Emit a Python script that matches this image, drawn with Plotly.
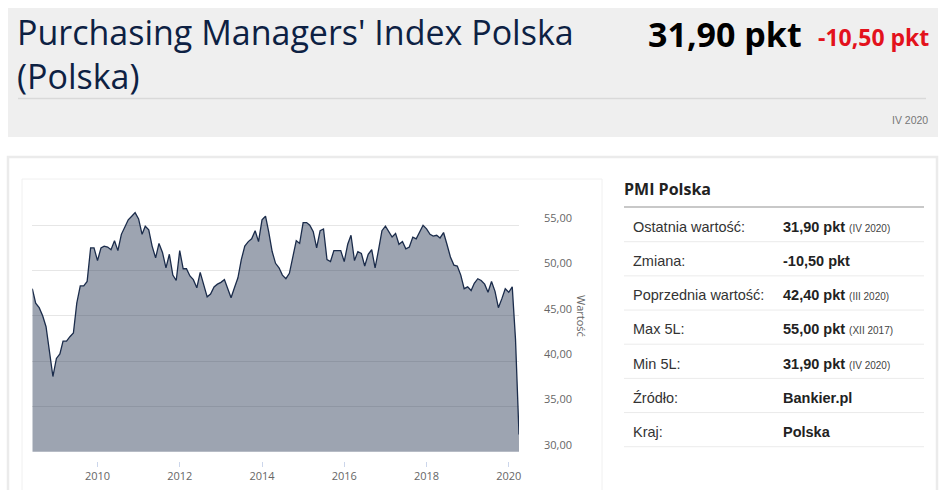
import pandas as pd
import plotly.graph_objects as go

W, H = 945, 490

# monthly PMI readings (Jun 2008 .. Apr 2020)
pmi_2008 = [48.0, 46.4, 45.9, 45.0, 43.8, 41.1, 38.3]
pmi_2009 = [40.3, 40.8, 42.2, 42.2, 42.7, 43.1, 46.4, 48.3, 48.3, 48.8, 52.5, 52.5]
pmi_2010 = [51.1, 52.5, 52.7, 52.6, 52.3, 53.3, 52.2, 54.0, 54.8, 55.6, 56.0, 56.4]
pmi_2011 = [55.7, 54.0, 54.9, 54.5, 52.7, 51.4, 53.0, 52.0, 50.3, 51.8, 49.5, 48.9]
pmi_2012 = [52.2, 50.2, 50.2, 49.4, 49.0, 48.1, 49.8, 48.4, 47.1, 47.4, 48.2, 48.5]
pmi_2013 = [48.7, 49.0, 48.0, 47.0, 48.1, 49.2, 51.2, 52.7, 53.2, 53.5, 54.4, 53.2]
pmi_2014 = [55.6, 56.0, 54.3, 52.1, 50.8, 50.3, 49.5, 49.1, 49.7, 51.4, 53.3, 53.0]
pmi_2015 = [55.3, 55.3, 55.0, 54.3, 52.5, 54.4, 54.6, 51.2, 51.0, 52.2, 52.2, 52.2]
pmi_2016 = [51.0, 52.9, 53.9, 51.1, 52.1, 51.9, 50.5, 51.8, 52.3, 50.3, 52.3, 54.4]
pmi_2017 = [54.9, 54.3, 53.7, 54.1, 52.9, 53.2, 52.4, 52.6, 53.7, 53.5, 54.3, 55.0]
pmi_2018 = [54.6, 54.0, 53.8, 53.9, 53.6, 54.2, 52.9, 51.5, 50.6, 50.5, 49.5, 48.0]
pmi_2019 = [48.2, 47.8, 48.6, 49.1, 48.9, 48.5, 47.6, 48.8, 47.7, 45.9, 46.9, 48.0]
pmi_2020 = [47.6, 48.2, 42.4, 31.9]

pmi = (pmi_2008 + pmi_2009 + pmi_2010 + pmi_2011 + pmi_2012 + pmi_2013 + pmi_2014
       + pmi_2015 + pmi_2016 + pmi_2017 + pmi_2018 + pmi_2019 + pmi_2020)
dates = pd.date_range("2008-06-01", periods=len(pmi), freq="MS")

year_ticks = [2010, 2012, 2014, 2016, 2018, 2020]
value_ticks = [30, 35, 40, 45, 50, 55]
value_labels = ["30,00", "35,00", "40,00", "45,00", "50,00", "55,00"]

row_labels = ["Ostatnia wartość:", "Zmiana:", "Poprzednia wartość:", "Max 5L:",
              "Min 5L:", "Źródło:", "Kraj:"]
row_values = ["31,90 pkt", "-10,50 pkt", "42,40 pkt", "55,00 pkt", "31,90 pkt",
              "Bankier.pl", "Polska"]
row_periods = ["IV 2020", "", "III 2020", "XII 2017", "IV 2020", "", ""]


def px(x):
    return x / W


def py(y):
    return 1 - y / H


HEAD_FONT = "Open Sans"
BODY_FONT = "Liberation Sans"

fig = go.Figure()
fig.add_trace(go.Scatter(
    x=dates, y=pmi,
    mode="lines",
    line=dict(color="#1b2c4b", width=1.3),
    fill="tozeroy",
    fillcolor="rgba(27,45,74,0.43)",
    showlegend=False,
    hoverinfo="x+y",
))

shapes = [
    # header panel
    dict(type="rect", x0=px(8), x1=px(938), y0=py(137), y1=py(8),
         fillcolor="#efefef", line=dict(width=0), layer="below"),
    dict(type="line", x0=px(18), x1=px(926), y0=py(98.5), y1=py(98.5),
         line=dict(color="#d9d9d9", width=1.5)),
    # white content box
    dict(type="rect", x0=px(8), x1=px(937), y0=py(520), y1=py(157),
         line=dict(color="#ebebeb", width=2.5), layer="below"),
    # chart container
    dict(type="rect", x0=px(22), x1=px(602), y0=py(520), y1=py(179),
         line=dict(color="#f0f0f0", width=1), layer="below"),
    # table header rule
    dict(type="line", x0=px(624), x1=px(924), y0=py(207), y1=py(207),
         line=dict(color="#c8c8c8", width=2)),
]
for i in range(len(row_labels)):
    ys = 241.7 + i * 34.17
    shapes.append(dict(type="line", x0=px(624), x1=px(924), y0=py(ys), y1=py(ys),
                       line=dict(color="#ebebeb", width=1)))
for s in shapes:
    s.update(xref="paper", yref="paper")

annotations = [
    dict(text="Purchasing Managers' Index Polska<br>(Polska)", x=px(15), y=py(54),
         xanchor="left", yanchor="middle", align="left",
         font=dict(family=HEAD_FONT, size=34, weight=500, color="#0d2143")),
    dict(text="<b>31,90 pkt</b>", x=px(804), y=py(34), xanchor="right", yanchor="middle",
         font=dict(family=HEAD_FONT, size=34, color="#000000")),
    dict(text="<b>-10,50 pkt</b>", x=px(931), y=py(37), xanchor="right", yanchor="middle",
         font=dict(family=HEAD_FONT, size=23, color="#e3121c")),
    dict(text="IV 2020", x=px(930), y=py(120), xanchor="right", yanchor="middle",
         font=dict(family=BODY_FONT, size=10.5, color="#777777")),
    dict(text="<b>PMI Polska</b>", x=px(622), y=py(189), xanchor="left", yanchor="middle",
         font=dict(family=HEAD_FONT, size=16, color="#222222")),
    dict(text="Wartość", x=px(582), y=py(316), xanchor="center", yanchor="middle",
         textangle=90, font=dict(family=HEAD_FONT, size=11, color="#666666")),
]
for i, (lab, val, per) in enumerate(zip(row_labels, row_values, row_periods)):
    yt = 226.5 + i * 34.3
    annotations.append(dict(text=lab, x=px(631), y=py(yt), xanchor="left", yanchor="middle",
                            font=dict(family=BODY_FONT, size=14.5, color="#333333")))
    txt = "<b>%s</b>" % val
    if per:
        txt += " <span style='font-size:10px;color:#444444'>(%s)</span>" % per
    annotations.append(dict(text=txt, x=px(781), y=py(yt), xanchor="left", yanchor="middle",
                            font=dict(family=BODY_FONT, size=14.5, color="#222222")))
for a in annotations:
    a.update(xref="paper", yref="paper", showarrow=False)

fig.update_layout(
    width=W, height=H,
    margin=dict(l=0, r=0, t=0, b=0, pad=0),
    paper_bgcolor="white",
    plot_bgcolor="white",
    shapes=shapes,
    annotations=annotations,
    xaxis=dict(
        domain=[px(32.3), px(519)],
        range=[dates[0], dates[-1]],
        tickvals=[pd.Timestamp(year=y, month=1, day=1) for y in year_ticks],
        ticktext=[str(y) for y in year_ticks],
        showgrid=False, zeroline=False, automargin=False,
        ticks="outside", ticklen=5, tickcolor="#ccd6eb",
        anchor="free", position=py(461),
        tickfont=dict(family=HEAD_FONT, size=11, color="#666666"),
    ),
    yaxis=dict(
        domain=[py(451.7), py(180)],
        range=[30, 60],
        side="right", automargin=False,
        tickvals=value_ticks, ticktext=value_labels,
        gridcolor="#e6e6e6", gridwidth=1, zeroline=False,
        ticks="", ticklabelstandoff=24, ticklabelshift=-7,
        tickfont=dict(family=HEAD_FONT, size=11, color="#666666"),
    ),
)

fig.write_html("out.html", config={"displayModeBar": False},
               post_script="document.body.style.margin='0';")
